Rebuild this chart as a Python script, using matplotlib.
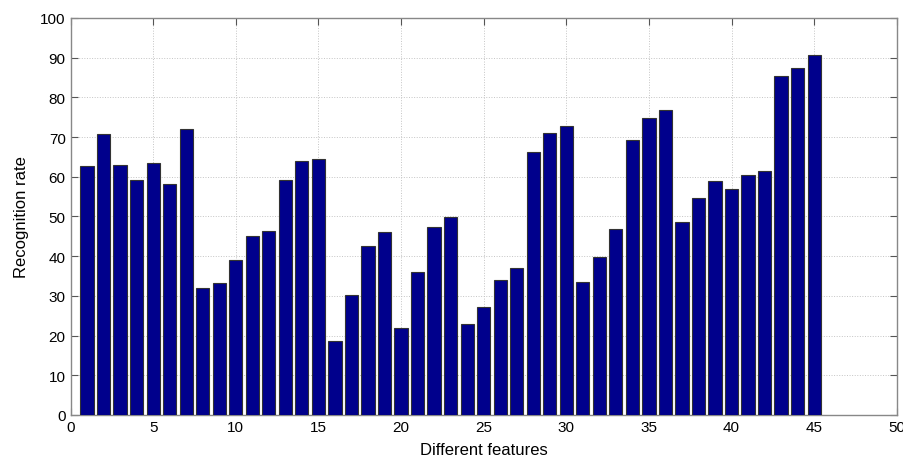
import numpy as np
import matplotlib
matplotlib.use('Agg')
import matplotlib.pyplot as plt

plt.rcParams['font.family'] = ['Liberation Sans', 'DejaVu Sans']

# recognition rate for each of the 45 feature sets
features = np.arange(1, 46)
rates = [62.6, 70.7, 63.0, 59.3, 63.4, 58.1, 72.0, 32.1, 33.2, 39.1,
         45.0, 46.3, 59.1, 64.0, 64.5, 18.6, 30.3, 42.5, 46.2, 22.0,
         36.1, 47.4, 49.8, 23.0, 27.1, 34.1, 37.1, 66.3, 71.1, 72.8,
         33.6, 39.9, 46.8, 69.3, 74.7, 76.9, 48.5, 54.7, 58.9, 56.9,
         60.5, 61.5, 85.3, 87.5, 90.8]

xticks = np.arange(0, 51, 5)
yticks = np.arange(0, 101, 10)

fig = plt.figure(figsize=(9.04, 4.6), dpi=100)
ax = fig.add_axes([0.078, 0.0957, 0.914, 0.863])

ax.bar(features, rates, width=0.8, color='#00008c', edgecolor='#333333',
       linewidth=0.8, zorder=3)

ax.set_xlim(0, 50)
ax.set_ylim(0, 100)
ax.set_xticks(xticks)
ax.set_yticks(yticks)
ax.tick_params(direction='in', top=True, right=True, length=5,
               labelsize=11, color='#555555', width=0.8)
ax.grid(True, linestyle=':', color='#c4c4c4', linewidth=0.7, zorder=0)
for s in ax.spines.values():
    s.set_color('#888888')
    s.set_linewidth(1.0)

ax.set_xlabel('Different features', fontsize=12, labelpad=6)
ax.set_ylabel('Recognition rate', fontsize=12, labelpad=8)

plt.savefig('out.png', dpi=100)
